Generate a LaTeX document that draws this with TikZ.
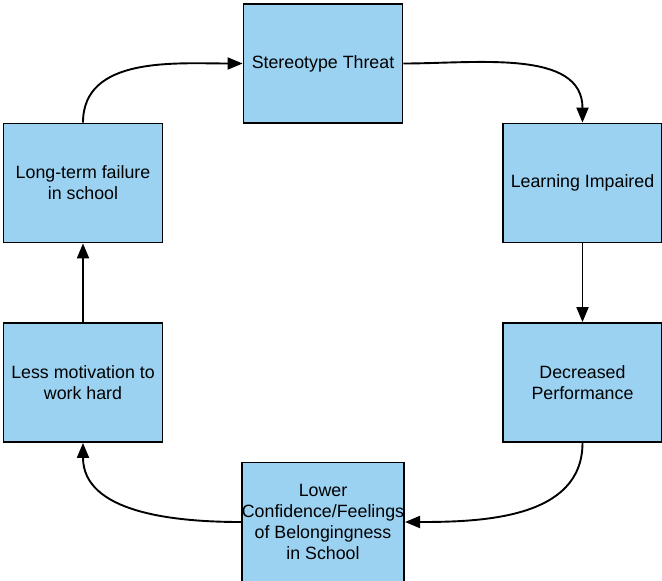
\documentclass[tikz,border=0pt]{standalone}
\usepackage{fontspec}
\setmainfont{Liberation Sans}
\usetikzlibrary{arrows.meta}
\definecolor{boxblue}{RGB}{155,210,242}
\begin{document}
\begin{tikzpicture}[x=1pt,y=-1pt,
  box/.style={draw=black,line width=1.8pt,fill=boxblue,minimum width=159pt,minimum height=119pt,inner sep=0pt,align=center,font=\fontsize{17.8}{21}\selectfont},
  arr/.style={line width=1.9pt,-{Triangle[length=15pt,width=12pt]}}]
\clip (0,0) rectangle (662,581);
\fill[white] (0,0) rectangle (662,581);
\node[box] (st) at (323,63.5) {Stereotype Threat};
\node[box] (li) at (582.5,183) {Learning Impaired};
\node[box] (dp) at (582.5,382.5) {Decreased\\Performance};
\node[box] (lc) at (323,522) {Lower\\Confidence/Feelings\\of Belongingness\\in School};
\node[box] (lm) at (83,382.5) {Less motivation to\\work hard};
\node[box] (lf) at (83,183) {Long-term failure\\in school};
\draw[arr] (lf.north) to[out=90,in=180] (st.west);
\draw[arr] (st.east) to[out=0,in=90] (li.north);
\draw[arr] (li.south) -- (dp.north);
\draw[arr] (dp.south) to[out=-90,in=0] (lc.east);
\draw[arr] (lc.west) to[out=180,in=-90] (lm.south);
\draw[arr] (lm.north) -- (lf.south);
\end{tikzpicture}
\end{document}
